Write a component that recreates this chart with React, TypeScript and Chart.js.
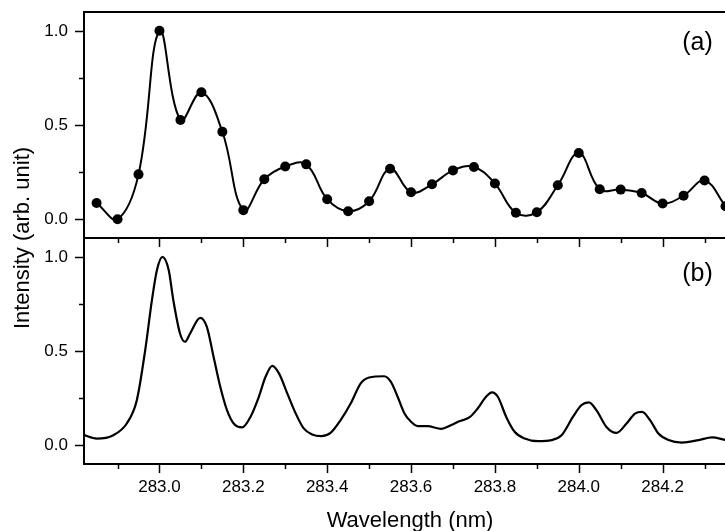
import React, { useEffect, useRef } from 'react';
import { Chart, registerables } from 'chart.js';

Chart.register(...registerables);

// Panel (a): sampled spectrum, one point every 0.05 nm
const aWavelength = [
  282.85, 282.9, 282.95, 283.0, 283.05, 283.1, 283.15, 283.2, 283.25, 283.3, 283.35,
  283.4, 283.45, 283.5, 283.55, 283.6, 283.65, 283.7, 283.75, 283.8, 283.85, 283.9,
  283.95, 284.0, 284.05, 284.1, 284.15, 284.2, 284.25, 284.3, 284.35,
];
const aIntensity = [
  0.086, 0.0, 0.238, 1.0, 0.527, 0.674, 0.464, 0.048, 0.212, 0.28, 0.291,
  0.106, 0.042, 0.095, 0.268, 0.143, 0.185, 0.259, 0.277, 0.189, 0.034, 0.037,
  0.18, 0.351, 0.159, 0.157, 0.139, 0.083, 0.125, 0.205, 0.069,
];

// Panel (b): continuous spectrum
const bWavelength = [
  282.82, 282.85, 282.89, 282.922, 282.946, 282.966, 282.982, 282.994, 283.007, 283.022,
  283.033, 283.049, 283.061, 283.073, 283.097, 283.113, 283.129, 283.145, 283.161, 283.177,
  283.197, 283.217, 283.237, 283.253, 283.269, 283.285, 283.305, 283.325, 283.344, 283.364,
  283.386, 283.408, 283.432, 283.456, 283.48, 283.5, 283.536, 283.552, 283.568, 283.584,
  283.6, 283.616, 283.639, 283.672, 283.695, 283.715, 283.739, 283.759, 283.779, 283.793,
  283.807, 283.827, 283.847, 283.871, 283.903, 283.935, 283.959, 283.986, 284.006, 284.024,
  284.042, 284.066, 284.09, 284.114, 284.134, 284.151, 284.17, 284.19, 284.214, 284.246,
  284.286, 284.318, 284.352, 284.375,
];
const bIntensity = [
  0.053, 0.035, 0.053, 0.115, 0.239, 0.505, 0.77, 0.93, 1.0, 0.93,
  0.77, 0.593, 0.549, 0.593, 0.676, 0.628, 0.469, 0.31, 0.186, 0.115,
  0.094, 0.15, 0.257, 0.363, 0.421, 0.381, 0.274, 0.168, 0.089, 0.057,
  0.048, 0.065, 0.133, 0.221, 0.328, 0.359, 0.366, 0.336, 0.257, 0.17,
  0.124, 0.101, 0.101, 0.087, 0.106, 0.127, 0.147, 0.195, 0.257, 0.28,
  0.257, 0.15, 0.071, 0.035, 0.021, 0.027, 0.053, 0.15, 0.212, 0.227,
  0.186, 0.097, 0.065, 0.115, 0.168, 0.177, 0.133, 0.062, 0.027, 0.014,
  0.027, 0.041, 0.027, 0.022,
];

const xTickLabels = ['283.0', '283.2', '283.4', '283.6', '283.8', '284.0', '284.2'];
const yTickLabels = ['0.0', '0.5', '1.0'];

const X_MIN = 282.82;
const X_MAX = 284.375;
const Y_MIN = -0.1;
const Y_MAX = 1.1;

const FONT = '"Liberation Sans", Arial, Helvetica, sans-serif';
const CANVAS_W = 750;
const CANVAS_H = 531;
const AXIS_W = 84;
const PANEL_TOP = 12;
const PANEL_SPLIT = 238;
const PLOT_BOTTOM = 464;

const labelFor = (list: string[]) => (v: number | string) => {
  const n = Number(v);
  const s = n.toFixed(1);
  return list.includes(s) && Math.abs(n - parseFloat(s)) < 1e-6 ? s : '';
};

// Draws the panel box, tick marks (major ticks carry a label), panel tag and the shared y title
const framePlugin = {
  id: 'frame',
  afterDraw(chart: any, _args: any, opts: any) {
    const { ctx, chartArea } = chart;
    const { left, right, top, bottom } = chartArea;
    ctx.save();
    ctx.strokeStyle = '#000';
    ctx.lineWidth = 2;
    ctx.strokeRect(left, top, right - left, bottom - top);

    ctx.lineWidth = 1.5;
    ctx.beginPath();
    const y = chart.scales.y;
    for (const t of y.ticks) {
      if (t.value < y.min || t.value > y.max) continue;
      const p = Math.round(y.getPixelForValue(t.value)) + 0.5;
      const len = t.label ? 9 : 5;
      ctx.moveTo(left - len, p);
      ctx.lineTo(left, p);
    }
    if (opts.xTicks) {
      const x = chart.scales.x;
      for (const t of x.ticks) {
        if (t.value <= x.min || t.value >= x.max) continue;
        const p = Math.round(x.getPixelForValue(t.value)) + 0.5;
        const len = t.label ? 9 : 5;
        ctx.moveTo(p, bottom);
        ctx.lineTo(p, bottom + len);
        ctx.moveTo(p, top);
        ctx.lineTo(p, top + len);
      }
    }
    ctx.stroke();

    ctx.fillStyle = '#000';
    ctx.textAlign = 'center';
    ctx.textBaseline = 'middle';
    if (opts.tag) {
      ctx.font = `25px ${FONT}`;
      ctx.fillText(opts.tag, right - opts.tagDx, top + opts.tagDy);
    }
    if (opts.yTitle) {
      ctx.font = `22px ${FONT}`;
      ctx.translate(opts.yTitleX, opts.yTitleY);
      ctx.rotate(-Math.PI / 2);
      ctx.fillText(opts.yTitle, 0, 0);
    }
    ctx.restore();
  },
};

const yScale = () => ({
  type: 'linear',
  min: Y_MIN,
  max: Y_MAX,
  afterFit: (s: any) => {
    s.width = AXIS_W;
    s.paddingTop = 0;
    s.paddingBottom = 0;
  },
  ticks: {
    stepSize: 0.25,
    includeBounds: false,
    padding: 7,
    color: '#000',
    font: { family: FONT, size: 17 },
    callback: labelFor(yTickLabels),
  },
  grid: { display: false, drawTicks: true, tickLength: 9 },
  border: { display: false },
});

export default function App() {
  const refA = useRef<HTMLCanvasElement>(null);
  const refB = useRef<HTMLCanvasElement>(null);

  useEffect(() => {
    const top = new Chart(refA.current as HTMLCanvasElement, {
      type: 'line',
      data: {
        datasets: [
          {
            data: aWavelength.map((x, i) => ({ x, y: aIntensity[i] })),
            borderColor: '#000',
            borderWidth: 2,
            tension: 0.4,
            pointRadius: 5,
            pointBackgroundColor: '#000',
            pointBorderWidth: 0,
          },
        ],
      },
      options: {
        responsive: false,
        animation: false,
        events: [],
        layout: { padding: { top: PANEL_TOP, right: 14, bottom: CANVAS_H - PANEL_SPLIT, left: 0 } },
        plugins: {
          legend: { display: false },
          tooltip: { enabled: false },
          frame: { tag: '(a)', tagDx: 38.5, tagDy: 31.5, xTicks: false },
        } as any,
        scales: {
          x: { type: 'linear', min: X_MIN, max: X_MAX, display: false },
          y: yScale() as any,
        },
      },
      plugins: [framePlugin],
    });

    const bottom = new Chart(refB.current as HTMLCanvasElement, {
      type: 'line',
      data: {
        datasets: [
          {
            data: bWavelength.map((x, i) => ({ x, y: bIntensity[i] })),
            borderColor: '#000',
            borderWidth: 2.2,
            cubicInterpolationMode: 'monotone',
            pointRadius: 0,
          },
        ],
      },
      options: {
        responsive: false,
        animation: false,
        events: [],
        layout: { padding: { top: PANEL_SPLIT, right: 14, bottom: 0, left: 0 } },
        plugins: {
          legend: { display: false },
          tooltip: { enabled: false },
          frame: {
            tag: '(b)',
            tagDx: 38.5,
            tagDy: 36,
            xTicks: true,
            yTitle: 'Intensity (arb. unit)',
            yTitleX: 23,
            yTitleY: 238,
          },
        } as any,
        scales: {
          x: {
            type: 'linear',
            position: 'bottom',
            min: X_MIN,
            max: X_MAX,
            afterFit: (s: any) => {
              s.height = CANVAS_H - PLOT_BOTTOM;
              s.paddingLeft = 0;
              s.paddingRight = 0;
            },
            ticks: {
              stepSize: 0.1,
              includeBounds: false,
              autoSkip: false,
              maxRotation: 0,
              padding: 4,
              color: '#000',
              font: { family: FONT, size: 17 },
              callback: labelFor(xTickLabels),
            },
            grid: { display: false, drawTicks: true, tickLength: 9 },
            border: { display: false },
            title: {
              display: true,
              text: 'Wavelength (nm)',
              color: '#000',
              font: { family: FONT, size: 22, lineHeight: 0.9 },
              padding: { top: 0, bottom: 0 },
            },
          } as any,
          y: yScale() as any,
        },
      },
      plugins: [framePlugin],
    });

    return () => {
      top.destroy();
      bottom.destroy();
    };
  }, []);

  return (
    <div
      style={{
        position: 'fixed',
        left: 0,
        top: 0,
        width: 725,
        height: 531,
        overflow: 'hidden',
        background: '#fff',
      }}
    >
      <canvas
        ref={refA}
        width={CANVAS_W}
        height={CANVAS_H}
        style={{ position: 'absolute', left: 0, top: 0 }}
      />
      <canvas
        ref={refB}
        width={CANVAS_W}
        height={CANVAS_H}
        style={{ position: 'absolute', left: 0, top: 0 }}
      />
    </div>
  );
}
